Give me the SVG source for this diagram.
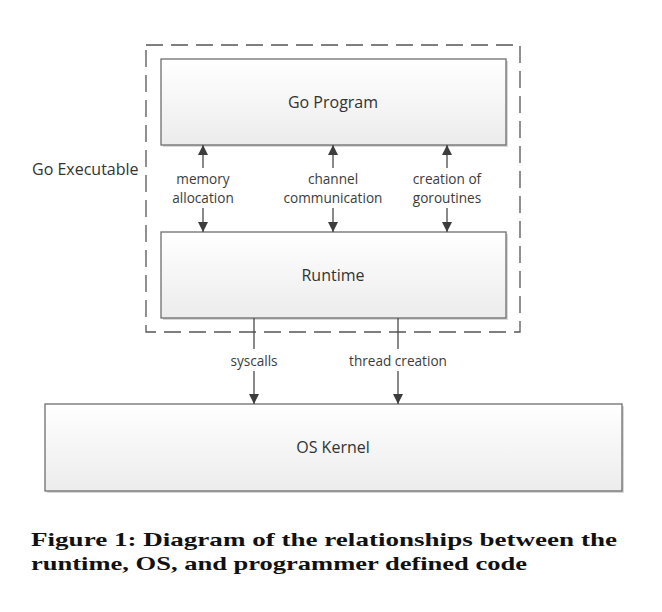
<svg xmlns="http://www.w3.org/2000/svg" width="662" height="612" viewBox="0 0 662 612">
<style>
.box{stroke:#6e6e6e;stroke-width:1.3;fill:url(#g)}
.shadow{fill:#d8d8d8}
.lbl{font-family:"Open Sans","Liberation Sans",sans-serif;font-size:16px;fill:#333;text-anchor:middle}
.edge{font-family:"Open Sans","Liberation Sans",sans-serif;font-size:13.6px;fill:#3c3c3c;text-anchor:middle}
.line{stroke:#4a4a4a;stroke-width:1.3;fill:none}
.cap{font-family:"Liberation Serif",serif;font-weight:bold;font-size:19px;fill:#111}
</style>
<defs>
<linearGradient id="g" x1="0" y1="0" x2="0" y2="1">
<stop offset="0" stop-color="#ffffff"/>
<stop offset="1" stop-color="#ececec"/>
</linearGradient>
<marker id="ah" viewBox="0 0 10 10" refX="10" refY="5" markerWidth="10" markerHeight="10" markerUnits="userSpaceOnUse" orient="auto">
<path d="M0,0 L10,5 L0,10 z" fill="#3c3c3c"/>
</marker>
</defs>
<rect width="662" height="612" fill="#fff"/>
<g id="go-executable">
<rect x="146" y="45" width="374" height="287" fill="none" stroke="#555" stroke-width="1.3" stroke-dasharray="17 8"/>
<text class="lbl" x="32" y="175" style="text-anchor:start">Go Executable</text>
</g>
<g id="go-program">
<rect class="shadow" x="163" y="61" width="345" height="86"/>
<rect class="box" x="161" y="59" width="345" height="86"/>
<text class="lbl" x="333" y="108">Go Program</text>
</g>
<g id="runtime">
<rect class="shadow" x="163" y="234" width="345" height="86"/>
<rect class="box" x="161" y="232" width="345" height="86"/>
<text class="lbl" x="333" y="281">Runtime</text>
</g>
<g id="os-kernel">
<rect class="shadow" x="47" y="406" width="577" height="87"/>
<rect class="box" x="45" y="404" width="577" height="87"/>
<text class="lbl" x="333" y="453">OS Kernel</text>
</g>
<g id="connectors">
<line class="line" x1="203" y1="168" x2="203" y2="145" marker-end="url(#ah)"/>
<line class="line" x1="203" y1="208" x2="203" y2="232" marker-end="url(#ah)"/>
<line class="line" x1="333" y1="168" x2="333" y2="145" marker-end="url(#ah)"/>
<line class="line" x1="333" y1="208" x2="333" y2="232" marker-end="url(#ah)"/>
<line class="line" x1="447" y1="168" x2="447" y2="145" marker-end="url(#ah)"/>
<line class="line" x1="447" y1="208" x2="447" y2="232" marker-end="url(#ah)"/>
<text class="edge" x="203" y="184">memory</text>
<text class="edge" x="203" y="203">allocation</text>
<text class="edge" x="333" y="184">channel</text>
<text class="edge" x="333" y="203">communication</text>
<text class="edge" x="447" y="184">creation of</text>
<text class="edge" x="447" y="203">goroutines</text>
<line class="line" x1="254" y1="318" x2="254" y2="349"/>
<line class="line" x1="254" y1="371" x2="254" y2="404" marker-end="url(#ah)"/>
<line class="line" x1="398" y1="318" x2="398" y2="349"/>
<line class="line" x1="398" y1="371" x2="398" y2="404" marker-end="url(#ah)"/>
<text class="edge" x="254" y="366">syscalls</text>
<text class="edge" x="398" y="366">thread creation</text>
</g>
<g id="caption">
<text class="cap" x="31" y="546" textLength="586" lengthAdjust="spacingAndGlyphs">Figure 1: Diagram of the relationships between the</text>
<text class="cap" x="31" y="570" textLength="496" lengthAdjust="spacingAndGlyphs">runtime, OS, and programmer defined code</text>
</g>
</svg>
